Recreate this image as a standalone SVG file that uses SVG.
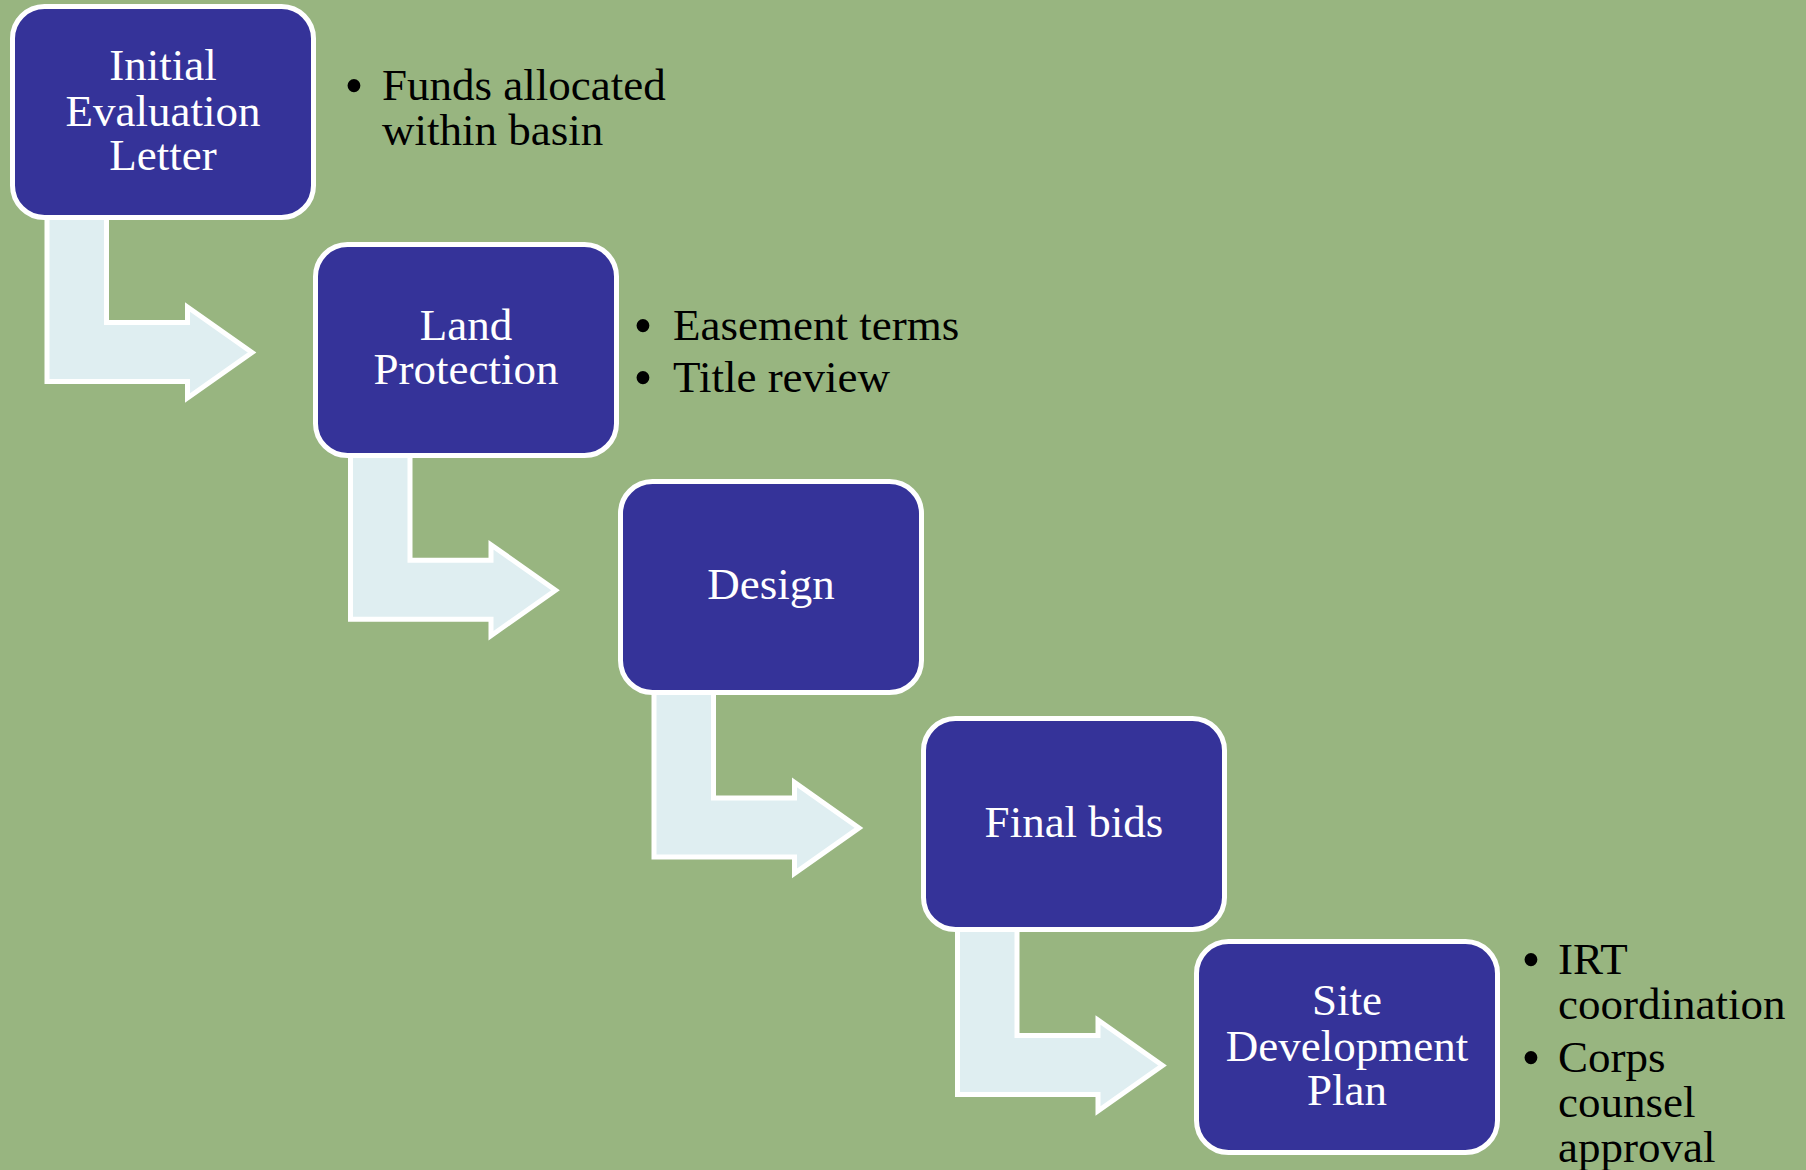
<svg xmlns="http://www.w3.org/2000/svg" width="1806" height="1170" viewBox="0 0 1806 1170">
<defs>
<style>
.box{fill:#353399;stroke:#ffffff;stroke-width:5}
.arr{fill:#DFEEF1;stroke:#ffffff;stroke-width:5;stroke-linejoin:miter}
.lbl{font-family:"Liberation Serif","Times New Roman",serif;font-size:45px;fill:#ffffff;text-anchor:middle}
.bul{font-family:"Liberation Serif","Times New Roman",serif;font-size:45px;fill:#000000}
.dot{font-family:"Liberation Serif","Times New Roman",serif;font-size:54px;fill:#000000;text-anchor:middle}
</style>
<path id="bent" d="M47,205 L106.5,205 L106.5,322.5 L187.5,322.5 L187.5,307 L252,352.5 L187.5,398 L187.5,381.5 L47,381.5 Z"/>
</defs>
<rect x="0" y="0" width="1806" height="1170" fill="#98B580"/>
<g id="connectors">
<use href="#bent" class="arr"/>
<use href="#bent" class="arr" transform="translate(303.5,237.7)"/>
<use href="#bent" class="arr" transform="translate(607,475.4)"/>
<use href="#bent" class="arr" transform="translate(910.5,713)"/>
</g>
<g id="node1">
<rect class="box" x="12.5" y="6.5" width="301" height="211" rx="32"/>
<text class="lbl" x="163" y="80">Initial</text>
<text class="lbl" x="163" y="126">Evaluation</text>
<text class="lbl" x="163" y="170">Letter</text>
</g>
<g id="node1-notes">
<text class="dot" x="354" y="104">•</text>
<text class="bul" x="382" y="100">Funds allocated</text>
<text class="bul" x="382" y="145">within basin</text>
</g>
<g id="node2">
<rect class="box" x="315.5" y="244.5" width="301" height="211" rx="32"/>
<text class="lbl" x="466" y="340">Land</text>
<text class="lbl" x="466" y="384">Protection</text>
</g>
<g id="node2-notes">
<text class="dot" x="643" y="344">•</text>
<text class="bul" x="673" y="340">Easement terms</text>
<text class="dot" x="643" y="396">•</text>
<text class="bul" x="673" y="392">Title review</text>
</g>
<g id="node3">
<rect class="box" x="620.5" y="481.5" width="301" height="211" rx="32"/>
<text class="lbl" x="771" y="599">Design</text>
</g>
<g id="node4">
<rect class="box" x="923.5" y="718.5" width="301" height="211" rx="32"/>
<text class="lbl" x="1074" y="837">Final bids</text>
</g>
<g id="node5">
<rect class="box" x="1196.5" y="941.5" width="301" height="211" rx="32"/>
<text class="lbl" x="1347" y="1015">Site</text>
<text class="lbl" x="1347" y="1061">Development</text>
<text class="lbl" x="1347" y="1105">Plan</text>
</g>
<g id="node5-notes">
<text class="dot" x="1531" y="978">•</text>
<text class="bul" x="1558" y="974">IRT</text>
<text class="bul" x="1558" y="1019">coordination</text>
<text class="dot" x="1531" y="1076">•</text>
<text class="bul" x="1558" y="1072">Corps</text>
<text class="bul" x="1558" y="1117">counsel</text>
<text class="bul" x="1558" y="1162">approval</text>
</g>
</svg>
